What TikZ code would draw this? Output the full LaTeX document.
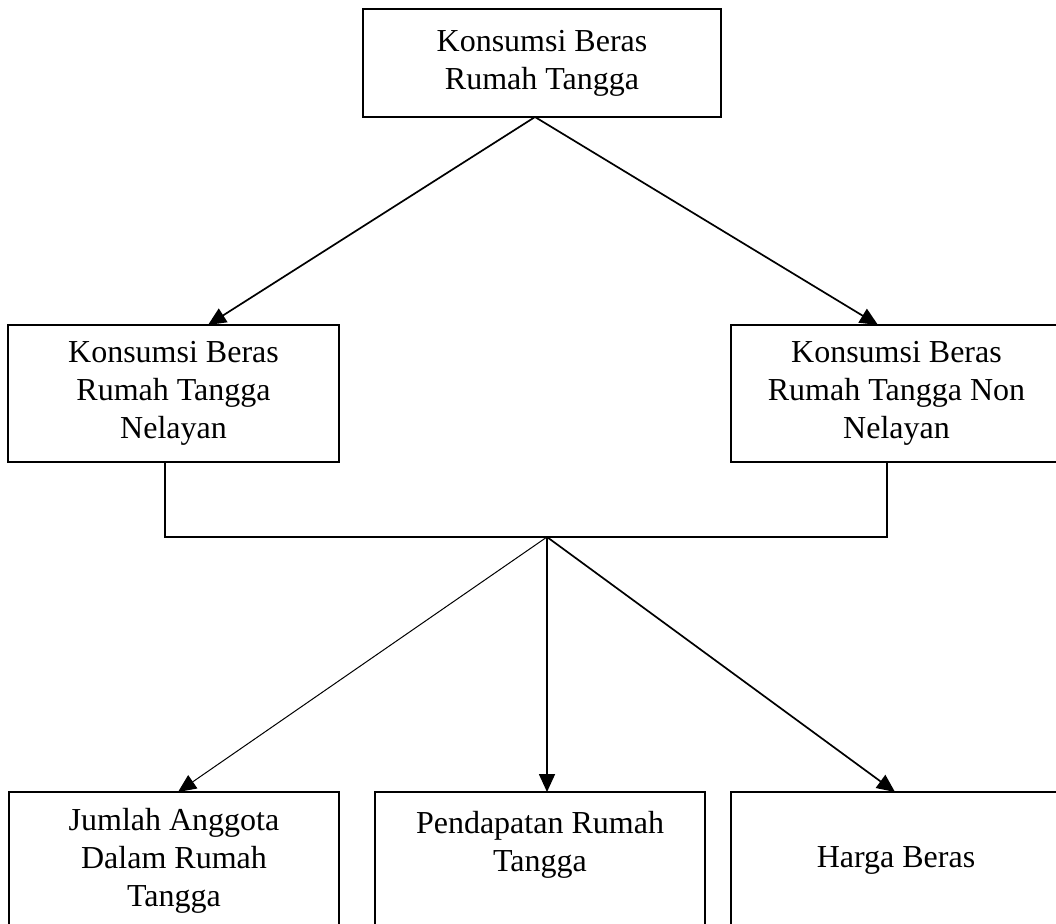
\documentclass[tikz,border=0pt]{standalone}
\usepackage{fontspec}
\setmainfont{Liberation Serif}
\usetikzlibrary{arrows.meta}

\begin{document}
\begin{tikzpicture}[x=1pt, y=-1pt,
	kotak/.style={draw, line width=1.7pt, align=center, inner sep=0pt, minimum width=331pt, minimum height=137pt, font=\fontsize{32}{38}\selectfont},
	garis/.style={line width=1.7pt},
	panah/.style={line width=1.7pt, -{Triangle[length=18pt, width=16pt]}}]
			\def \atas{ 63 };
			\def \tengah{ 393.5 };
			\def \bawah{ 860.5 };
			\useasboundingbox (0,0) rectangle (1056,923);
			\node[kotak, minimum width=358pt, minimum height=108pt] (konsumsi) at (542,\atas) {Konsumsi Beras\\Rumah Tangga};
			\node[kotak] (nelayan) at (173.5,\tengah) {Konsumsi Beras\\Rumah Tangga\\Nelayan};
			\node[kotak] (nonnelayan) at (896.5,\tengah) {Konsumsi Beras\\Rumah Tangga Non\\Nelayan};
			\node[kotak, minimum width=330pt] (anggota) at (174,\bawah) {Jumlah Anggota\\Dalam Rumah\\Tangga};
			\node[kotak, minimum width=330pt] (pendapatan) at (540,\bawah) {Pendapatan Rumah\\Tangga\\~};
			\node[kotak, minimum width=330pt] (harga) at (896,\bawah) {Harga Beras};
			\coordinate (pangkal) at (535,117);
			\coordinate (kiri) at (165,537);
			\coordinate (kanan) at (887,537);
			\coordinate (temu) at (547,537);
			\coordinate (u1) at (208,325);
			\coordinate (u2) at (878,325);
			\coordinate (u3) at (178,792);
			\coordinate (u4) at (547,792);
			\coordinate (u5) at (895,792);
			\draw[panah] (pangkal) -- (u1);
			\draw[panah] (pangkal) -- (u2);
			\draw[garis] (nelayan.south -| kiri) -- (kiri) -- (kanan) -- (nonnelayan.south -| kanan);
			\draw[panah, line width=1pt] (temu) -- (u3);
			\draw[panah] (temu) -- (u4);
			\draw[panah] (temu) -- (u5);
		\end{tikzpicture}
\end{document}
